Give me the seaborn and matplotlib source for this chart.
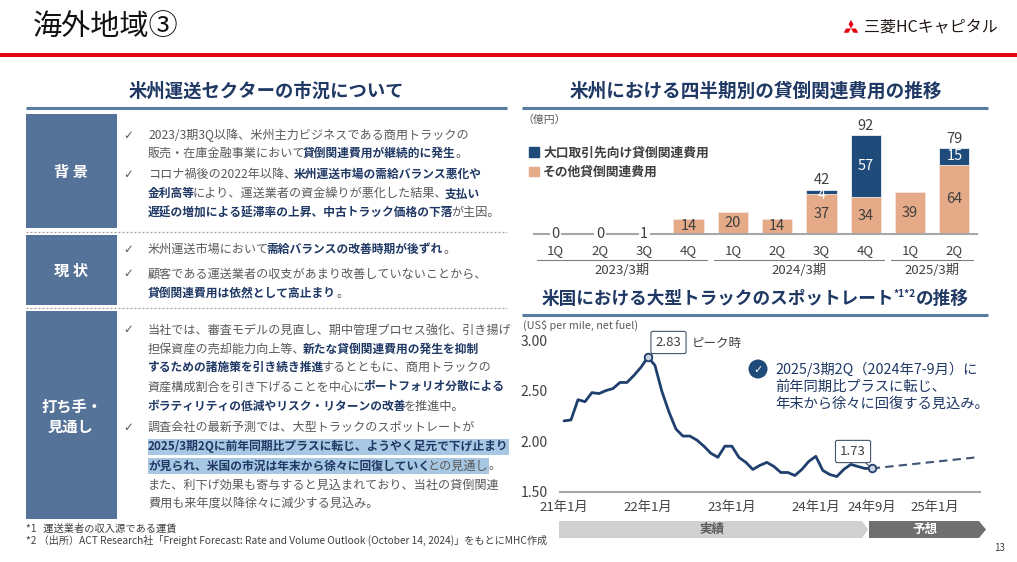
import matplotlib
matplotlib.use('Agg')
import matplotlib.pyplot as plt
import seaborn as sns
import numpy as np
import pandas as pd
from matplotlib.patches import Rectangle, Polygon, Circle, Patch

# ---------------- data ----------------
quarters = ['1Q', '2Q', '3Q', '4Q', '1Q', '2Q', '3Q', '4Q', '1Q', '2Q']
fiscal_years = ['2023/3期', '2024/3期', '2025/3期']
fiscal_spans = [(0, 3), (4, 7), (8, 9)]
other_cost = [0, 0, 1, 14, 20, 14, 37, 34, 39, 64]
large_cost = [0, 0, 0, 0, 0, 0, 4, 57, 0, 15]
total_labels = [None, None, None, None, None, None, 42, 92, None, 79]

spot_rate = [2.20, 2.21, 2.41, 2.39, 2.48, 2.47, 2.50, 2.52, 2.58, 2.58,
             2.65, 2.73, 2.83, 2.75, 2.49, 2.29, 2.12, 2.05, 2.05, 2.01,
             1.95, 1.88, 1.84, 1.95, 1.95, 1.84, 1.79, 1.72, 1.76, 1.79,
             1.75, 1.69, 1.69, 1.66, 1.72, 1.80, 1.85, 1.71, 1.67, 1.65,
             1.72, 1.77, 1.75, 1.73, 1.73]
forecast_month = [44, 59]
forecast_rate = [1.73, 1.84]
time_tick_pos = [0, 12, 24, 36, 44, 53]
time_tick_labels = ['21年1月', '22年1月', '23年1月', '24年1月', '24年9月', '25年1月']
rate_ticks = [1.5, 2.0, 2.5, 3.0]

# ---------------- style ----------------
sns.set_theme(style='white')
plt.rcParams['font.family'] = ['Noto Sans CJK JP', 'DejaVu Sans']

NAVY = '#1F4B7A'
ORANGE = '#E5AA88'
NAVY_T = '#1F3864'
GREY_T = '#595959'
DARK_T = '#404040'
BOX = '#557398'
HL = '#A8C7E2'
RULE = '#5A7CA3'
AXIS = '#A6A6A6'
LINE = '#1F3F6E'

W, H = 1017, 562
fig = plt.figure(figsize=(W / 100, H / 100), dpi=100)
bg = fig.add_axes([0, 0, 1, 1])
bg.set_xlim(0, W)
bg.set_ylim(H, 0)
bg.axis('off')
renderer = fig.canvas.get_renderer()

# ---------------- header ----------------
bg.text(33, 27, '海外地域③', fontsize=21, color='#111111', va='center', ha='left')
bg.add_patch(Rectangle((0, 52.5), W, 4, color='#E60012', lw=0))
# Mitsubishi mark
cx, cy, L = 851, 28.5, 8.5
Wd = L / np.sqrt(3)
for ang in (90, 210, 330):
    d = np.array([np.cos(np.radians(ang)), -np.sin(np.radians(ang))])
    p = np.array([-d[1], d[0]])
    c = np.array([cx, cy])
    pts = [c, c + d * L / 2 + p * Wd / 2, c + d * L, c + d * L / 2 - p * Wd / 2]
    bg.add_patch(Polygon(pts, closed=True, color='#E60012', lw=0))
bg.text(864, 27, '三菱HCキャピタル', fontsize=11.5, color='#231815', va='center', ha='left')


def centered_pieces(cx, cy, pieces, color=NAVY_T):
    ts = []
    total = 0
    for txt, fs, dy in pieces:
        t = bg.text(0, cy + dy, txt, fontsize=fs, fontweight='bold', color=color,
                    va='center', ha='left')
        w = t.get_window_extent(renderer=renderer).width
        ts.append((t, w))
        total += w
    x = cx - total / 2
    for t, w in ts:
        t.set_x(x)
        x += w


# section titles
centered_pieces(266, 91.5, [('米州運送セクターの市況について', 13.2, 0)])
bg.plot([26, 507], [108, 108], color=RULE, lw=2.2, solid_capstyle='butt')
centered_pieces(756, 91.5, [('米州における四半期別の貸倒関連費用の推移', 13.4, 0)])
bg.plot([522, 988], [108, 108], color=RULE, lw=2.2, solid_capstyle='butt')
centered_pieces(755, 298.5, [('米国における大型トラックのスポットレート', 12.7, 0),
                             ('*1*2', 7.3, -4.5), ('の推移', 12.7, 0)])
bg.plot([522, 988], [314.5, 314.5], color=RULE, lw=2.2, solid_capstyle='butt')

# ---------------- left panel ----------------
boxes = [(114, 228, '背 景', [172]), (235, 305, '現 状', [270.5]),
         (310.5, 519, None, None)]
for top, bot, lab, ly in boxes:
    bg.add_patch(Rectangle((26, top), 90.5, bot - top, color=BOX, lw=0))
    if lab:
        bg.text(71, ly[0], lab, fontsize=11, fontweight='bold', color='white',
                va='center', ha='center')
bg.text(72, 406.5, '打ち手・', fontsize=11, fontweight='bold', color='white', va='center', ha='center')
bg.text(70, 426.5, '見通し', fontsize=11, fontweight='bold', color='white', va='center', ha='center')
for yy in (231.5, 307.5):
    bg.plot([26, 507], [yy, yy], color='#A0A0A0', lw=0.9, ls=(0, (1.6, 1.6)))

FS = 8.7
FSB = 8.45
GAP_FIX = 2.5


def rich_line(x, y, segs):
    for k, (txt, sty) in enumerate(segs):
        bold = 'B' in sty
        color = NAVY_T if bold else GREY_T
        t = bg.text(x, y, txt, fontsize=FSB if bold else FS, color=color,
                    fontweight='bold' if bold else 'normal', va='center', ha='left', zorder=3)
        w = t.get_window_extent(renderer=renderer).width
        if 'H' in sty:
            bg.add_patch(Rectangle((x - 0.5, y - 8.2), w + 1.0, 16.4, color=HL, lw=0, zorder=1))
        nxt = segs[k + 1][0] if k < len(segs) - 1 else None
        x += w - (GAP_FIX if (nxt is not None and not nxt.startswith('。')) else 0)


N, B, BH, NH = 'N', 'B', 'BH', 'NH'
lines = [
    (135, True, [('2023/3期3Q以降、米州主力ビジネスである商用トラックの', N)]),
    (153.5, False, [('販売・在庫金融事業において', N), ('貸倒関連費用が継続的に発生', B), ('。', N)]),
    (174.3, True, [('コロナ禍後の2022年以降、', N), ('米州運送市場の需給バランス悪化や', B)]),
    (193.7, False, [('金利高等', B), ('により、運送業者の資金繰りが悪化した結果、', N), ('支払い', B)]),
    (212.7, False, [('遅延の増加による延滞率の上昇、中古トラック価格の下落', B), ('が主因。', N)]),
    (249, True, [('米州運送市場において', N), ('需給バランスの改善時期が後ずれ', B), ('。', N)]),
    (274, True, [('顧客である運送業者の収支があまり改善していないことから、', N)]),
    (293.3, False, [('貸倒関連費用は依然として高止まり', B), ('。', N)]),
    (330, True, [('当社では、審査モデルの見直し、期中管理プロセス強化、引き揚げ', N)]),
    (349, False, [('担保資産の売却能力向上等、', N), ('新たな貸倒関連費用の発生を抑制', B)]),
    (367.8, False, [('するための諸施策を引き続き推進', B), ('するとともに、商用トラックの', N)]),
    (386.8, False, [('資産構成割合を引き下げることを中心に', N), ('ポートフォリオ分散による', B)]),
    (406.7, False, [('ボラティリティの低減やリスク・リターンの改善', B), ('を推進中。', N)]),
    (427.3, True, [('調査会社の最新予測では、大型トラックのスポットレートが', N)]),
    (446.7, False, [('2025/3期2Qに前年同期比プラスに転じ、ようやく足元で下げ止まり', BH)]),
    (466, False, [('が見られ、米国の市況は年末から徐々に回復していく', BH), ('との見通し', NH), ('。', N)]),
    (485, False, [('また、利下げ効果も寄与すると見込まれており、当社の貸倒関連', N)]),
    (503.3, False, [('費用も来年度以降徐々に減少する見込み。', N)]),
]
for y, chk, segs in lines:
    if chk:
        bg.text(128, y, '✓', fontsize=8.5, color=GREY_T, va='center', ha='center',
                family=['DejaVu Sans'])
    rich_line(148, y, segs)

bg.text(26, 528.5, '*1   運送業者の収入源である運賃', fontsize=7.4, color=DARK_T, va='center', ha='left')
bg.text(26, 540.5, '*2 （出所）ACT Research社「Freight Forecast: Rate and Volume Outlook (October 14, 2024)」をもとにMHC作成',
        fontsize=7.3, color=DARK_T, va='center', ha='left')
bg.text(1000, 548, '13', fontsize=7, color=DARK_T, va='center', ha='center')

# ---------------- bar chart ----------------
df = pd.DataFrame({'pos': list(range(len(quarters))), 'other': other_cost,
                   'total': [o + l for o, l in zip(other_cost, large_cost)]})
ax1 = fig.add_axes([533.5 / W, (H - 234) / H, 443 / W, 108.4 / H])
ax1.set_facecolor('none')
sns.barplot(data=df, x='pos', y='total', color=NAVY, saturation=1, width=0.68,
            edgecolor='#EEF2F7', linewidth=0.6, ax=ax1)
sns.barplot(data=df, x='pos', y='other', color=ORANGE, saturation=1, width=0.68,
            edgecolor='#F7E6DC', linewidth=0.6, ax=ax1)
ax1.set_ylim(0, 100)
ax1.set_xlim(-0.5, len(quarters) - 0.5)
ax1.set_xlabel('')
ax1.set_ylabel('')
ax1.set_yticks([])
ax1.set_xticks(range(len(quarters)))
ax1.set_xticklabels(quarters, fontsize=9.5, color=DARK_T)
ax1.tick_params(axis='x', length=0, pad=7)
for s in ('top', 'left', 'right'):
    ax1.spines[s].set_visible(False)
ax1.spines['bottom'].set_color(AXIS)
ax1.spines['bottom'].set_linewidth(1.5)

for i, (o, l) in enumerate(zip(other_cost, large_cost)):
    if o < 5 and l == 0:
        ax1.text(i, 0, str(o), fontsize=10.5, color=DARK_T, ha='center', va='center',
                 bbox=dict(facecolor='white', edgecolor='none', pad=1.2), clip_on=False, zorder=5)
    else:
        ax1.text(i, o / 2, str(o), fontsize=10.5, color=DARK_T, ha='center', va='center')
    if l > 0:
        yl = o + l / 2 if l >= 8 else o - 1.2
        ax1.text(i, yl, str(l), fontsize=10.5, color='white', ha='center', va='center')
    if total_labels[i] is not None:
        ax1.annotate(str(total_labels[i]), (i, o + l), xytext=(0, 2), textcoords='offset points',
                     ha='center', va='bottom', fontsize=10.5, color=DARK_T)

for (a, b), name in zip(fiscal_spans, fiscal_years):
    ax1.plot([a - 0.42, b + 0.42], [-0.24, -0.24], color='#7F7F7F', lw=0.8,
             transform=ax1.get_xaxis_transform(), clip_on=False)
    ax1.text((a + b) / 2, -0.335, name, fontsize=9.5, color=DARK_T, ha='center', va='center',
             transform=ax1.get_xaxis_transform())

ax1.legend(handles=[Patch(color=NAVY, label='大口取引先向け貸倒関連費用'),
                    Patch(color=ORANGE, label='その他貸倒関連費用')],
           loc='upper left', bbox_to_anchor=(529 / W, 1 - 146.5 / H), bbox_transform=fig.transFigure,
           frameon=False, prop={'weight': 'bold', 'size': 9.2}, labelcolor=DARK_T,
           handlelength=0.75, handleheight=0.75, handletextpad=0.35, labelspacing=0.5,
           borderpad=0, borderaxespad=0)
bg.text(522, 120, '（億円）', fontsize=7.8, color=GREY_T, va='center', ha='left')

# ---------------- line chart ----------------
ax2 = fig.add_axes([559.8 / W, (H - 491.7) / H, 420.4 / W, 151.7 / H])
ax2.set_facecolor('none')
months = np.arange(len(spot_rate))
sns.lineplot(x=months, y=spot_rate, color=LINE, lw=2, ax=ax2)
sns.lineplot(x=forecast_month, y=forecast_rate, color='#3F5473', lw=1.5, ls=(0, (4, 2.5)), ax=ax2)
peak_i = int(np.argmax(spot_rate))
last_i = len(spot_rate) - 1
ax2.scatter([peak_i, last_i], [spot_rate[peak_i], spot_rate[last_i]], s=30,
            facecolor='#C9D3E0', edgecolor=LINE, linewidth=1.3, zorder=5, clip_on=False)
ax2.set_xlim(-0.6, 59.5)
ax2.set_ylim(1.5, 3.0)
ax2.set_yticks(rate_ticks)
ax2.set_yticklabels([f'{v:.2f}' for v in rate_ticks], fontsize=10, color=DARK_T)
ax2.set_xticks(time_tick_pos)
ax2.set_xticklabels(time_tick_labels, fontsize=9.5, color=DARK_T)
ax2.tick_params(axis='y', length=0, pad=8.5)
ax2.tick_params(axis='x', length=0, pad=6.5)
ax2.set_xlabel('')
ax2.set_ylabel('')
for s in ('top', 'left', 'right'):
    ax2.spines[s].set_visible(False)
ax2.spines['bottom'].set_color(AXIS)
ax2.spines['bottom'].set_linewidth(1.5)

box_kw = dict(boxstyle='round,pad=0.35,rounding_size=0.15', facecolor='white', edgecolor='#44546A', lw=0.8)
ax2.annotate(f'{spot_rate[peak_i]:.2f}', (peak_i, spot_rate[peak_i]), xytext=(14.8, 10.6),
             textcoords='offset points', ha='center', va='center', fontsize=9.5, color=DARK_T,
             bbox=box_kw, arrowprops=dict(arrowstyle='-', color='#44546A', lw=0.8, shrinkA=0, shrinkB=3),
             annotation_clip=False, zorder=6)
ax2.annotate(f'{spot_rate[last_i]:.2f}', (last_i, spot_rate[last_i]), xytext=(-13.5, 12.2),
             textcoords='offset points', ha='center', va='center', fontsize=9.5, color=DARK_T,
             bbox=box_kw, arrowprops=dict(arrowstyle='-', color='#44546A', lw=0.8, shrinkA=0, shrinkB=3),
             annotation_clip=False, zorder=6)
bg.text(692, 343, 'ピーク時', fontsize=9, color=DARK_T, va='center', ha='left')
bg.text(523, 325.5, '(US$ per mile, net fuel)', fontsize=7.8, color=GREY_T, va='center', ha='left')

# callout
bg.add_patch(Circle((758, 369), 9.5, color=NAVY, lw=0))
bg.text(758, 369.5, '✓', fontsize=8, color='white', va='center', ha='center', family=['DejaVu Sans'])
for yy, tx in [(369, '2025/3期2Q（2024年7-9月）に'), (386.7, '前年同期比プラスに転じ、'),
               (404, '年末から徐々に回復する見込み。')]:
    bg.text(775, yy, tx, fontsize=10.3, color=NAVY_T, va='center', ha='left')

# 実績 / 予想 chevrons
bg.add_patch(Polygon([(559, 521), (862, 521), (868, 529.5), (862, 538), (559, 538)],
                     closed=True, color='#D0D0D0', lw=0))
bg.add_patch(Polygon([(869, 521), (979, 521), (986, 529.5), (979, 538), (869, 538)],
                     closed=True, color='#6F6F6F', lw=0))
bg.text(712, 529.5, '実績', fontsize=9, fontweight='bold', color='#595959', va='center', ha='center')
bg.text(925, 529.5, '予想', fontsize=9, fontweight='bold', color='white', va='center', ha='center')

fig.savefig('out.png', dpi=100)
